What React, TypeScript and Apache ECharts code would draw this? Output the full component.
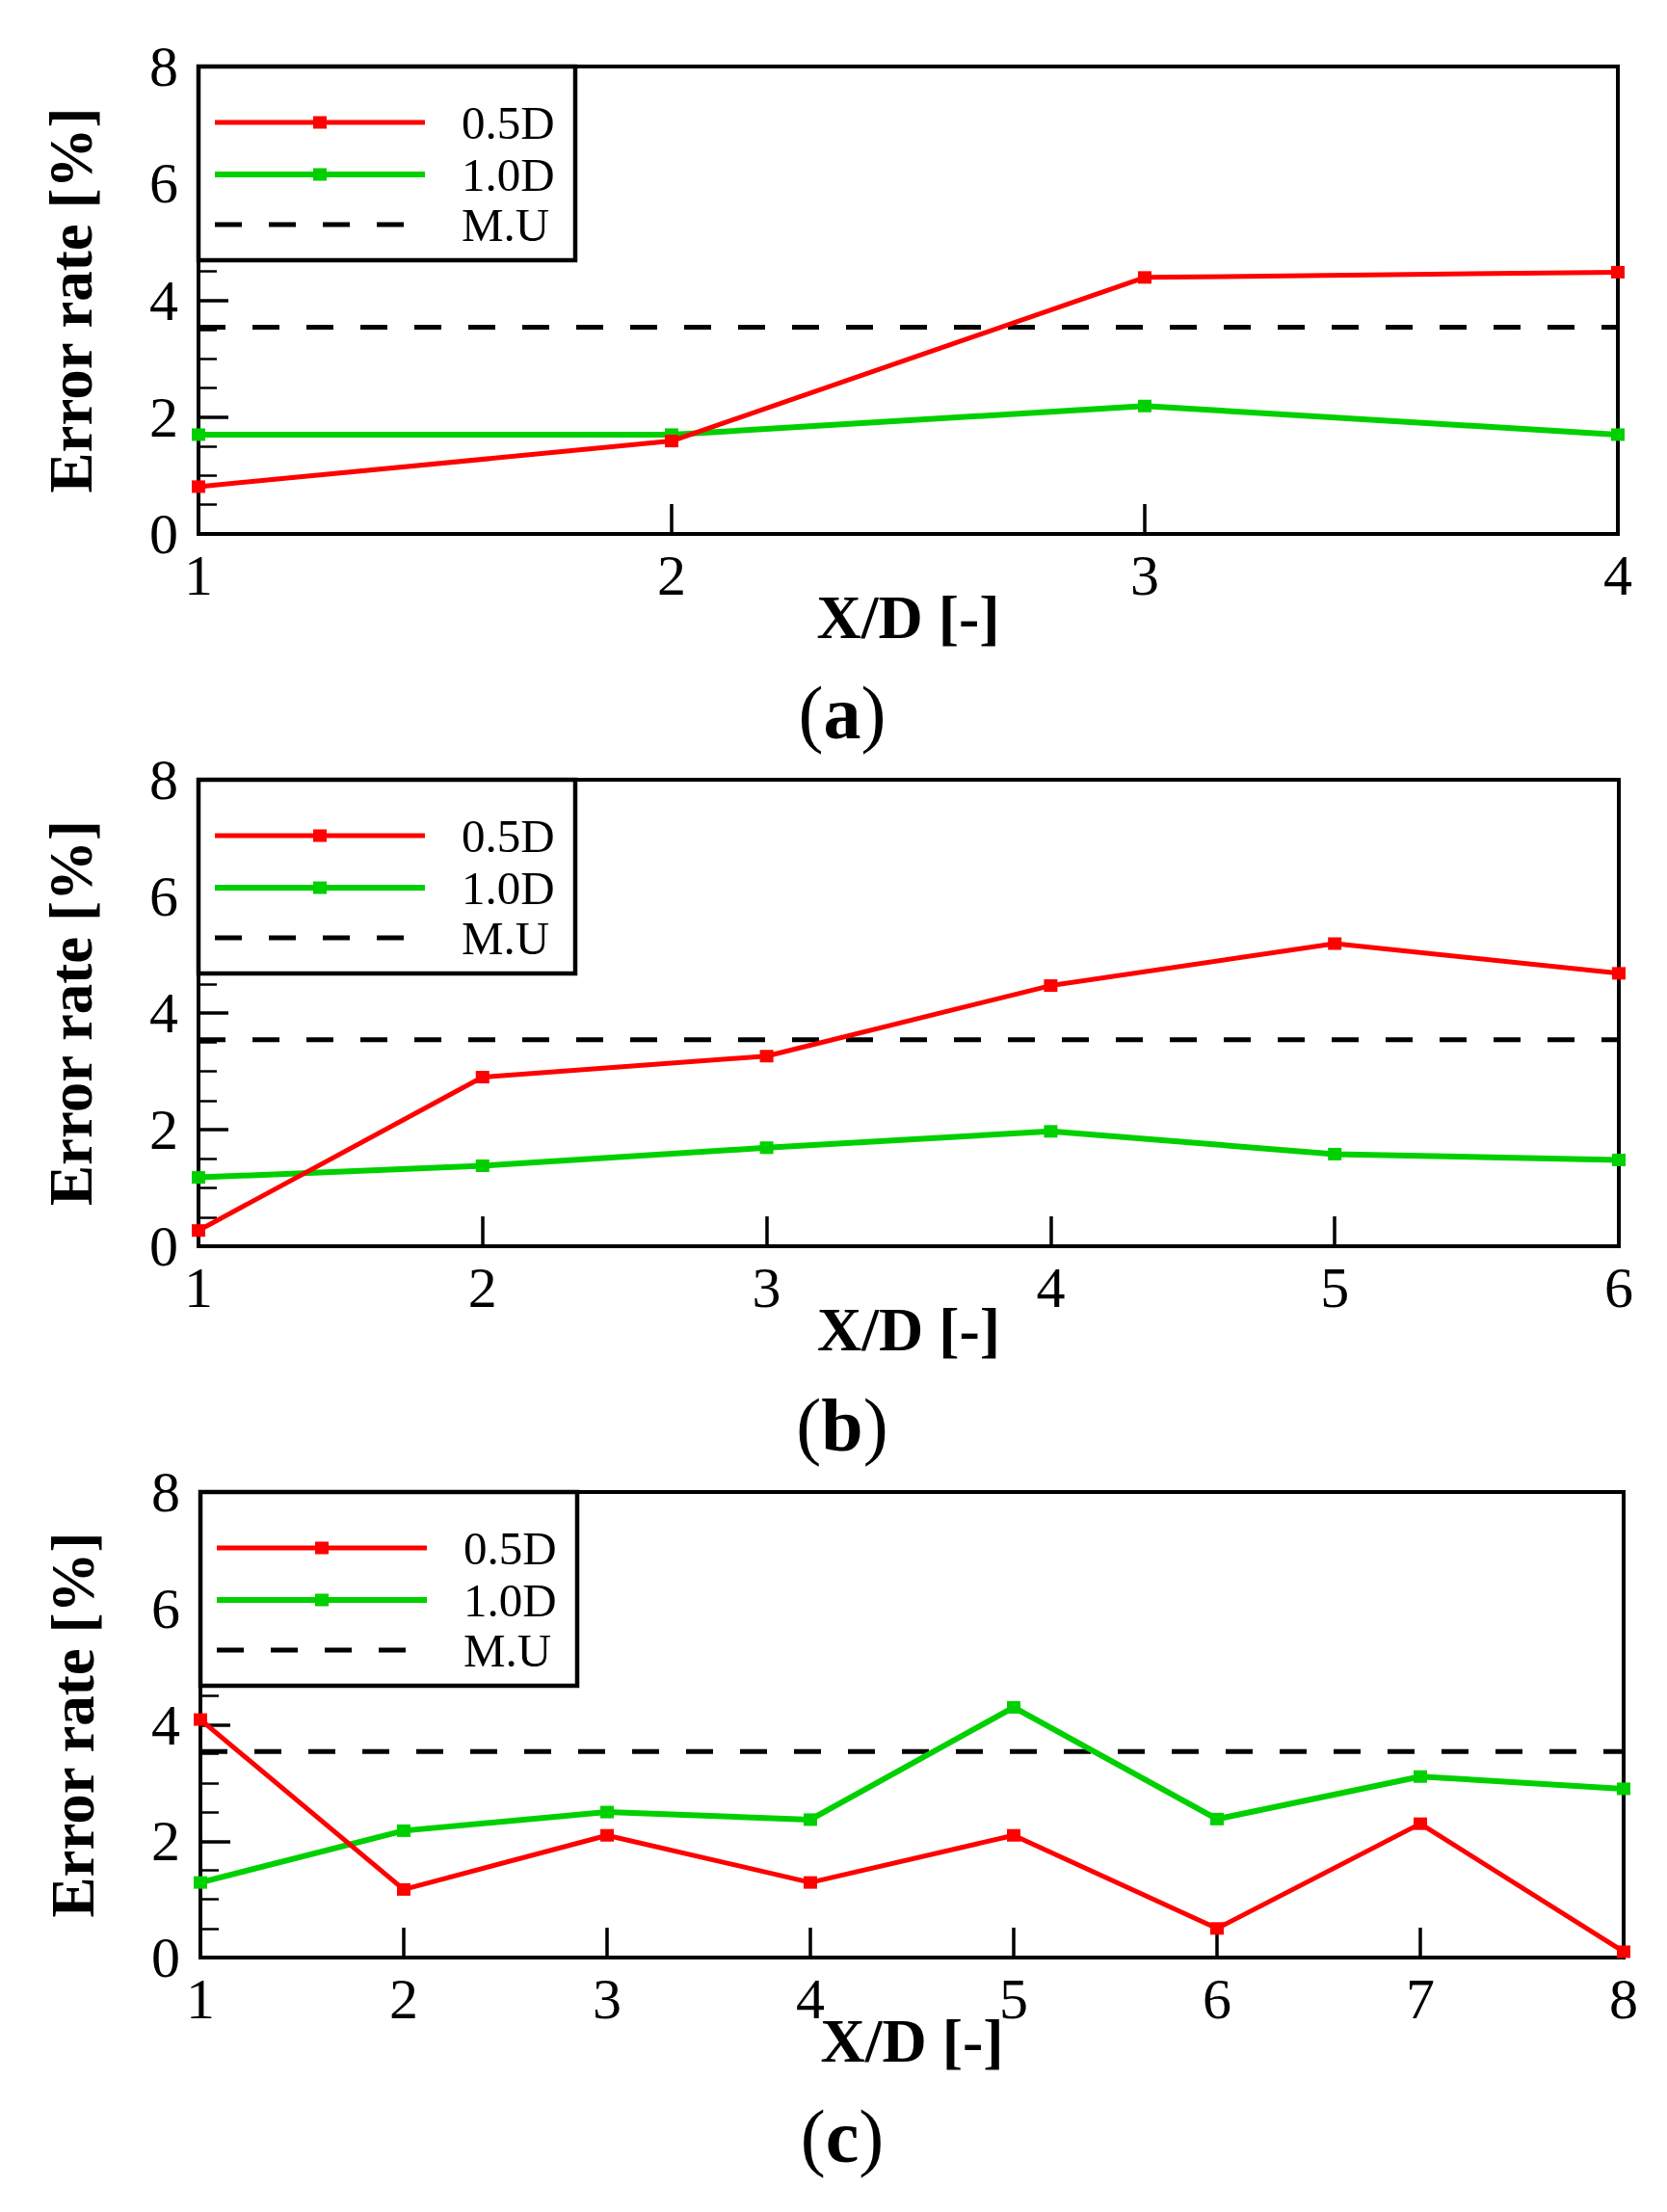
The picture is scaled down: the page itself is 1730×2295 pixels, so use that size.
import React, { useEffect, useRef } from "react";
import * as echarts from "echarts";

// ---- data ----
const xA = [1, 2, 3, 4];
const a05 = [0.81, 1.59, 4.39, 4.48];
const a10 = [1.7, 1.7, 2.19, 1.7];

const xB = [1, 2, 3, 4, 5, 6];
const b05 = [0.27, 2.9, 3.26, 4.47, 5.19, 4.68];
const b10 = [1.18, 1.38, 1.69, 1.97, 1.58, 1.48];

const xC = [1, 2, 3, 4, 5, 6, 7, 8];
const c05 = [4.09, 1.17, 2.1, 1.29, 2.1, 0.5, 2.3, 0.1];
const c10 = [1.29, 2.18, 2.5, 2.37, 4.3, 2.38, 3.11, 2.9];

const muValue = 3.54;
const seriesNames = ["0.5D", "1.0D", "M.U"];
const panelLetters = ["a", "b", "c"];
const yTicks = { min: 0, max: 8, interval: 2 };

const FONT = "Liberation Serif";
const RED = "#ff0000";
const GREEN = "#00d000";

const layout = [
  { left: 206, right: 51, top: 69, height: 485 },
  { left: 206, right: 50, top: 809, height: 484 },
  { left: 208, right: 45, top: 1548, height: 483 },
];

export default function App() {
  const ref = useRef<HTMLDivElement>(null);
  useEffect(() => {
    document.body.style.margin = "0";
    if (!ref.current) return;
    const chart = echarts.init(ref.current, null, { renderer: "svg" });
    const panels = [
      { xs: xA, s05: a05, s10: a10 },
      { xs: xB, s05: b05, s10: b10 },
      { xs: xC, s05: c05, s10: c10 },
    ];
    const grids: any[] = [];
    const xAxes: any[] = [];
    const yAxes: any[] = [];
    const series: any[] = [];
    const graphics: any[] = [];
    panels.forEach((p, i) => {
      const L = layout[i];
      const xmin = p.xs[0];
      const xmax = p.xs[p.xs.length - 1];
      grids.push({
        left: L.left,
        right: L.right,
        top: L.top,
        height: L.height,
        show: true,
        borderColor: "#000",
        borderWidth: 4,
        backgroundColor: "transparent",
      });
      xAxes.push({
        type: "value",
        gridIndex: i,
        min: xmin,
        max: xmax,
        interval: 1,
        name: "X/D [-]",
        nameLocation: "middle",
        nameGap: 54,
        nameMoveOverlap: false,
        nameTextStyle: { fontFamily: FONT, fontWeight: "bold", fontSize: 64, color: "#000" },
        axisLine: { show: false },
        axisTick: { show: true, inside: true, length: 31, lineStyle: { color: "#000", width: 3.5 } },
        splitLine: { show: false },
        axisLabel: { fontFamily: FONT, fontSize: 60, color: "#000", margin: 13 },
      });
      yAxes.push({
        type: "value",
        gridIndex: i,
        min: yTicks.min,
        max: yTicks.max,
        interval: yTicks.interval,
        name: "Error rate [%]",
        nameLocation: "middle",
        nameRotate: 90,
        nameGap: 101,
        nameMoveOverlap: false,
        nameTextStyle: { fontFamily: FONT, fontWeight: "bold", fontSize: 63, color: "#000" },
        axisLine: { show: false },
        axisTick: { show: true, inside: true, length: 31, lineStyle: { color: "#000", width: 3.5 } },
        minorTick: { show: true, splitNumber: 4, length: 19, lineStyle: { color: "#000", width: 2.5 } },
        splitLine: { show: false },
        minorSplitLine: { show: false },
        axisLabel: { fontFamily: FONT, fontSize: 60, color: "#000", margin: 21 },
      });
      series.push({
        name: seriesNames[0],
        type: "line",
        xAxisIndex: i,
        yAxisIndex: i,
        data: p.xs.map((x, j) => [x, p.s05[j]]),
        symbol: "rect",
        symbolSize: [14, 13],
        lineStyle: { color: RED, width: 5 },
        itemStyle: { color: RED },
        z: 3,
      });
      series.push({
        name: seriesNames[1],
        type: "line",
        xAxisIndex: i,
        yAxisIndex: i,
        data: p.xs.map((x, j) => [x, p.s10[j]]),
        symbol: "rect",
        symbolSize: [14, 13],
        lineStyle: { color: GREEN, width: 6 },
        itemStyle: { color: GREEN },
        z: 2,
      });
      series.push({
        name: seriesNames[2],
        type: "line",
        xAxisIndex: i,
        yAxisIndex: i,
        data: [
          [xmin, muValue],
          [xmax, muValue],
        ],
        symbol: "none",
        lineStyle: { color: "#000", width: 5, type: [28, 28] },
        z: 1,
        silent: true,
      });

      // legend box
      const bx = L.left;
      const by = L.top;
      const rows = [58, 112, 164];
      graphics.push({
        type: "rect",
        z: 100,
        shape: { x: bx, y: by, width: 391, height: 201 },
        style: { fill: "#fff", stroke: "#000", lineWidth: 4.5 },
      });
      graphics.push({
        type: "line",
        z: 101,
        shape: { x1: bx + 17, y1: by + rows[0], x2: bx + 235, y2: by + rows[0] },
        style: { stroke: RED, lineWidth: 5 },
      });
      graphics.push({
        type: "rect",
        z: 102,
        shape: { x: bx + 119, y: by + rows[0] - 6.5, width: 14, height: 13 },
        style: { fill: RED },
      });
      graphics.push({
        type: "line",
        z: 101,
        shape: { x1: bx + 17, y1: by + rows[1], x2: bx + 235, y2: by + rows[1] },
        style: { stroke: GREEN, lineWidth: 6 },
      });
      graphics.push({
        type: "rect",
        z: 102,
        shape: { x: bx + 119, y: by + rows[1] - 6.5, width: 14, height: 13 },
        style: { fill: GREEN },
      });
      graphics.push({
        type: "line",
        z: 101,
        shape: { x1: bx + 17, y1: by + rows[2], x2: bx + 213, y2: by + rows[2] },
        style: { stroke: "#000", lineWidth: 5, lineDash: [28, 28] },
      });
      rows.forEach((r, k) => {
        graphics.push({
          type: "text",
          z: 103,
          x: bx + 273,
          y: by + r,
          style: {
            text: seriesNames[k],
            fontFamily: FONT,
            fontSize: 49,
            fill: "#000",
            textAlign: "left",
            textVerticalAlign: "middle",
          },
        });
      });
      // panel label
      graphics.push({
        type: "text",
        z: 103,
        x: 874,
        y: L.top + L.height + 185,
        style: {
          text: "{p|(}{b|" + panelLetters[i] + "}{p|)}",
          rich: {
            p: { fontFamily: FONT, fontSize: 78, fill: "#000", color: "#000" },
            b: { fontFamily: FONT, fontSize: 78, fontWeight: "bold", fill: "#000", color: "#000" },
          },
          textAlign: "center",
          textVerticalAlign: "middle",
        },
      });
    });

    chart.setOption({
      animation: false,
      backgroundColor: "#fff",
      grid: grids,
      xAxis: xAxes,
      yAxis: yAxes,
      series,
      graphic: graphics,
    });
    return () => chart.dispose();
  }, []);
  return <div ref={ref} style={{ width: 1730, height: 2295 }} />;
}
